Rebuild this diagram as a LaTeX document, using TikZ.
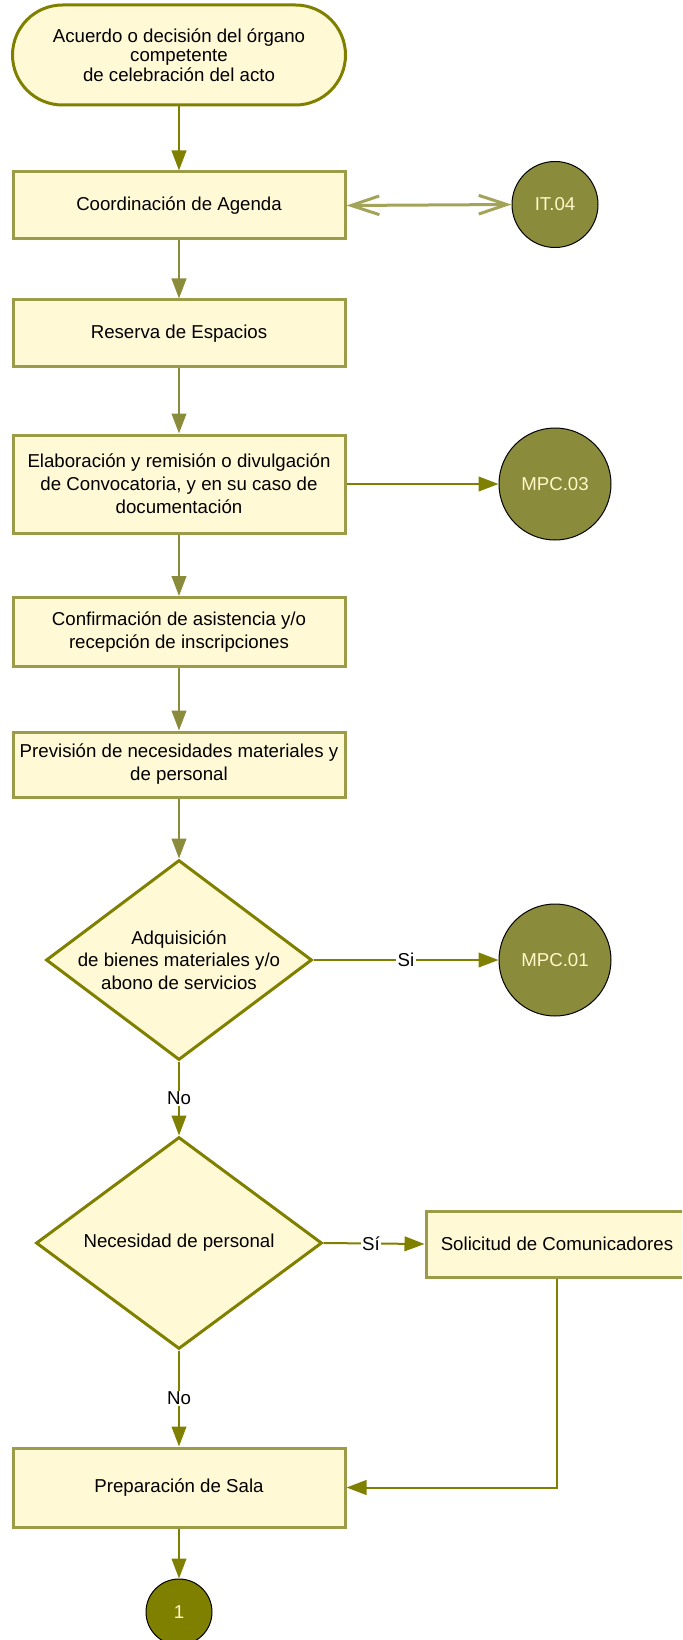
\documentclass[tikz,border=0pt]{standalone}
\usepackage{fontspec}
\setmainfont{Liberation Sans}
\usetikzlibrary{shapes.geometric,arrows.meta}

\definecolor{boxfill}{HTML}{FFF9D6}
\definecolor{boxline}{HTML}{9C9C48}
\definecolor{olivedark}{HTML}{808000}
\definecolor{olivemid}{HTML}{8B8B3C}
\definecolor{olivelight}{HTML}{A3A35A}
\definecolor{circfill}{HTML}{8B8B3C}
\definecolor{circtext}{HTML}{FFF8C8}

\begin{document}
\begin{tikzpicture}[x=0.75pt,y=-0.75pt,
  every node/.style={font=\fontsize{14}{17.25}\selectfont},
  terminal/.style={draw=olivedark, line width=2.25pt, fill=boxfill,
    rounded corners=37.5pt, minimum width=333*0.75pt, minimum height=100*0.75pt,
    align=center, inner sep=0pt, font=\fontsize{14}{14.5}\selectfont},
  stepbox/.style={draw=boxline, line width=2.25pt, fill=boxfill,
    minimum width=332*0.75pt, align=center, inner sep=0pt},
  decision/.style={diamond, draw=olivedark, line width=2.25pt, fill=boxfill,
    inner sep=0pt},
  refcirc/.style={circle, draw=black, line width=0.75pt, fill=circfill,
    text=circtext, inner sep=0pt},
  flow/.style={draw=olivemid, line width=1.5pt, -{Triangle[length=15pt,width=11pt]}},
  flowdark/.style={draw=olivedark, line width=1.5pt, -{Triangle[length=15pt,width=11pt]}},
  answer/.style={fill=white, inner sep=1pt, text=black},
]
\useasboundingbox (0,0) rectangle (682,1640);
\clip (0,0) rectangle (682,1640);

% main column
\node[terminal] (start) at (179,55)
  {Acuerdo o decisión del órgano\\competente\\de celebración del acto};
\node[stepbox, minimum height=67*0.75pt] (agenda) at (179,205.5) {Coordinación de Agenda};
\node[stepbox, minimum height=67*0.75pt] (espacios) at (179,333.5) {Reserva de Espacios};
\node[stepbox, minimum height=98*0.75pt] (convoca) at (179,484)
  {Elaboración y remisión o divulgación\\de Convocatoria, y en su caso de\\documentación};
\node[stepbox, minimum height=69*0.75pt] (confirma) at (179,632)
  {Confirmación de asistencia y/o\\recepción de inscripciones};
\node[stepbox, minimum height=65*0.75pt] (prevision) at (179,764.5)
  {Previsión de necesidades materiales y\\de personal};
\node[decision, minimum width=266*0.75pt, minimum height=200*0.75pt,
  label={[align=center, font=\fontsize{14}{16.9}\selectfont]center:Adquisición\\de bienes materiales y/o\\abono de servicios}]
  (adquiere) at (179,960) {};
\node[decision, minimum width=286*0.75pt, minimum height=212*0.75pt,
  label={center:Necesidad de personal}] (personal) at (179,1243) {};
\node[stepbox, minimum height=79*0.75pt] (sala) at (179,1487.5) {Preparación de Sala};

% side column
\node[stepbox, minimum width=262*0.75pt, minimum height=66*0.75pt] (comunica) at (557,1244)
  {Solicitud de Comunicadores};
\node[refcirc, minimum size=86*0.75pt] (it04) at (555,204.5) {IT.04};
\node[refcirc, minimum size=112*0.75pt] (mpc03) at (555,484) {MPC.03};
\node[refcirc, minimum size=112*0.75pt] (mpc01) at (555,960) {MPC.01};
\node[refcirc, fill=olivedark, minimum size=66*0.75pt] (cont) at (179,1612) {1};

% connectors
\draw[flowdark] (start) -- (agenda);
\draw[draw=olivelight, line width=2.25pt,
  {Straight Barb[length=21pt,width=14pt]}-{Straight Barb[length=21pt,width=14pt]}]
  (agenda.east) -- (it04.west);
\draw[flow] (agenda) -- (espacios);
\draw[flow] (espacios) -- (convoca);
\draw[flowdark] (convoca.east) -- (mpc03.west);
\draw[flow] (convoca) -- (confirma);
\draw[flow] (confirma) -- (prevision);
\draw[flow] (prevision) -- (adquiere.north);
\draw[flowdark] (adquiere.east) -- node[answer] {Si} (mpc01.west);
\draw[flowdark] (adquiere.south) -- node[answer] {No} (personal.north);
\draw[flowdark] (personal.east) -- node[answer, pos=0.47] {Sí} (comunica.west);
\draw[flowdark] (personal.south) -- node[answer] {No} (sala.north);
\draw[flowdark] (comunica.south) |- (sala.east);
\draw[flowdark] (sala) -- (cont);
\end{tikzpicture}
\end{document}
